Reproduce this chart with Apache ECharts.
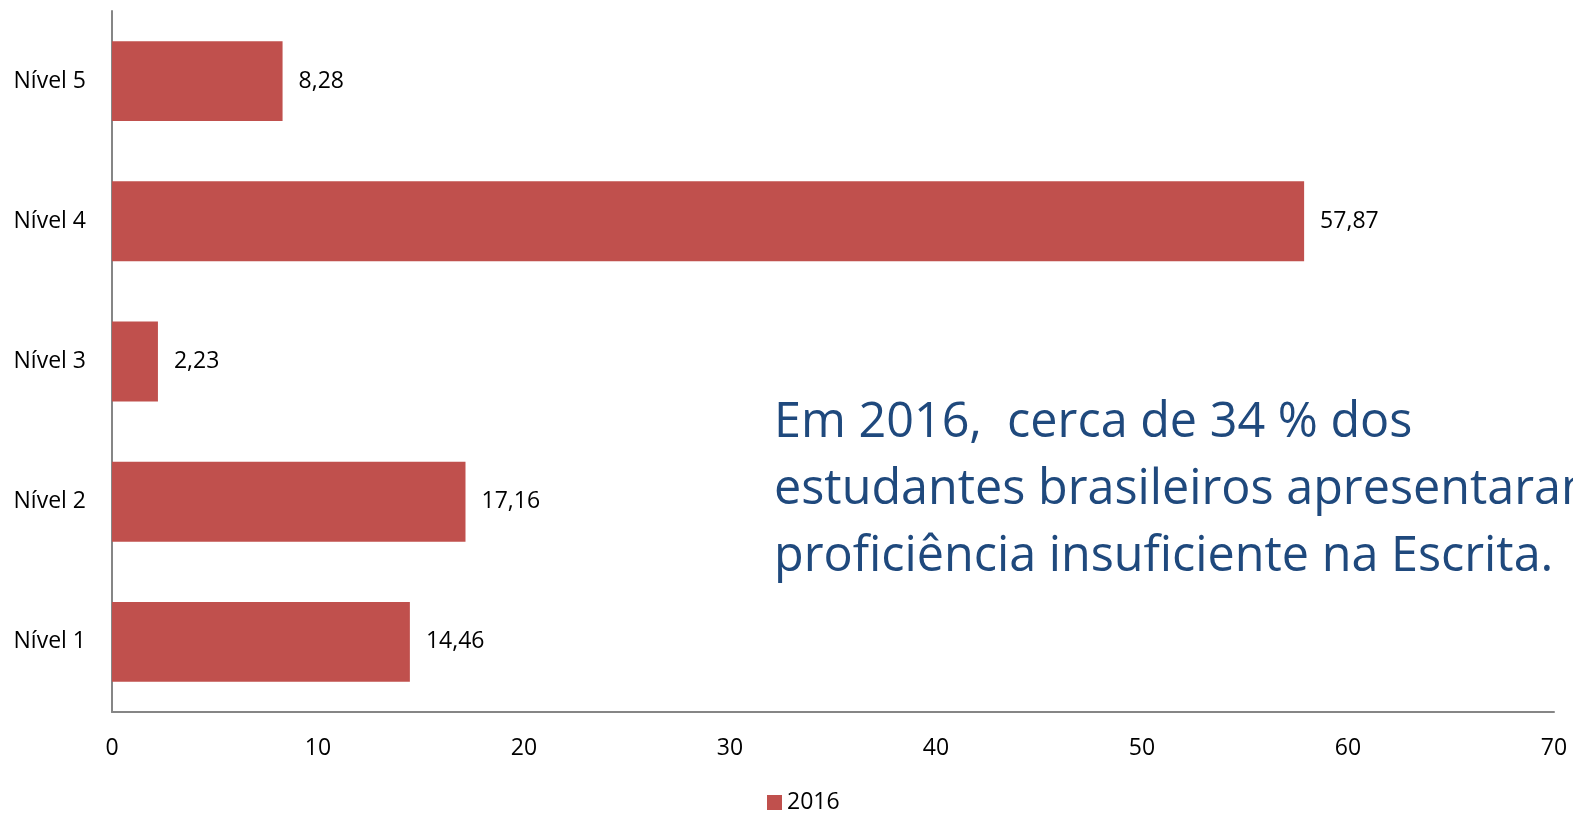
<!DOCTYPE html>
<html>
<head>
<meta charset="utf-8">
<title>Nível 2016</title>
<script src="https://cdn.jsdelivr.net/npm/echarts@6/dist/echarts.min.js"></script>
<style>
  html, body { margin: 0; padding: 0; background: #fff; }
  #main { width: 1573px; height: 817px; }
</style>
</head>
<body>
<div id="main"></div>
<script>
// dados do gráfico
var niveis = ['Nível 1', 'Nível 2', 'Nível 3', 'Nível 4', 'Nível 5'];
var valores2016 = [14.46, 17.16, 2.23, 57.87, 8.28];
var nomeSerie = '2016';
var textoNota = ['Em 2016,  cerca de 34 % dos', 'estudantes brasileiros apresentaram', 'proficiência insuficiente na Escrita.'];

var fonte = 'Open Sans, Liberation Sans, sans-serif';

var myChart = echarts.init(document.getElementById('main'));

var option = {
  animation: false,
  color: ['#C0504D'],
  grid: {
    left: 112,
    right: 19,
    top: 11,
    bottom: 105,
    containLabel: false
  },
  legend: {
    bottom: -2,
    left: 762,
    icon: 'rect',
    itemWidth: 15,
    itemHeight: 15,
    itemGap: 7,
    textStyle: { fontFamily: fonte, fontSize: 23, color: '#000' },
    data: [nomeSerie]
  },
  xAxis: {
    type: 'value',
    min: 0,
    max: 70,
    interval: 10,
    axisLine: { show: true, lineStyle: { color: '#868686', width: 2 } },
    axisTick: { show: false },
    splitLine: { show: false },
    axisLabel: { fontFamily: fonte, fontSize: 23, color: '#000', margin: 25 }
  },
  yAxis: {
    type: 'category',
    data: niveis,
    axisLine: { show: true, lineStyle: { color: '#868686', width: 2 } },
    axisTick: { show: false },
    axisLabel: { fontFamily: fonte, fontSize: 23, color: '#000', margin: 26 }
  },
  series: [{
    name: nomeSerie,
    type: 'bar',
    data: valores2016,
    barCategoryGap: '43%',
    label: {
      show: true,
      position: 'right',
      distance: 16,
      fontFamily: fonte,
      fontSize: 23,
      color: '#000',
      formatter: function (p) { return String(p.value).replace('.', ','); }
    }
  }],
  graphic: [{
    type: 'text',
    left: 774,
    top: 390,
    style: {
      text: textoNota.join('\n'),
      fontFamily: fonte,
      fontSize: 48.5,
      lineHeight: 67,
      fill: '#1F497D'
    }
  }]
};

myChart.setOption(option);
</script>
</body>
</html>
